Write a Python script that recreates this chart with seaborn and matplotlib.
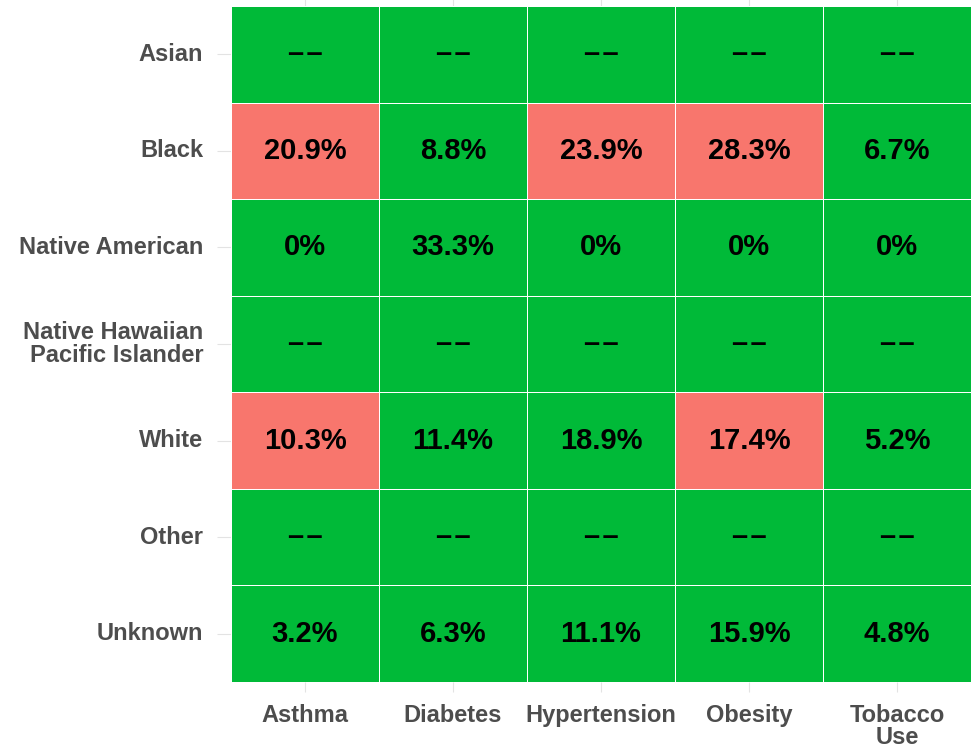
import numpy as np
import pandas as pd
import matplotlib
matplotlib.use("Agg")
import matplotlib.pyplot as plt
from matplotlib.colors import ListedColormap
import seaborn as sns

groups = ["Asian", "Black", "Native American", "Native Hawaiian\nPacific Islander",
          "White", "Other", "Unknown"]
conditions = ["Asthma", "Diabetes", "Hypertension", "Obesity", "Tobacco\nUse"]

# percent per group, None = no data
asian = [None, None, None, None, None]
black = [20.9, 8.8, 23.9, 28.3, 6.7]
native_american = [0, 33.3, 0, 0, 0]
nhpi = [None, None, None, None, None]
white = [10.3, 11.4, 18.9, 17.4, 5.2]
other = [None, None, None, None, None]
unknown = [3.2, 6.3, 11.1, 15.9, 4.8]

# 1 = flagged (red), 0 = ok (green)
flag_asian = [0, 0, 0, 0, 0]
flag_black = [1, 0, 1, 1, 0]
flag_native_american = [0, 0, 0, 0, 0]
flag_nhpi = [0, 0, 0, 0, 0]
flag_white = [1, 0, 0, 1, 0]
flag_other = [0, 0, 0, 0, 0]
flag_unknown = [0, 0, 0, 0, 0]

values = [asian, black, native_american, nhpi, white, other, unknown]
flags = [flag_asian, flag_black, flag_native_american, flag_nhpi,
         flag_white, flag_other, flag_unknown]

flag_df = pd.DataFrame(flags, index=groups, columns=conditions)
missing = "\u2013\u200a\u2013"
labels = [[missing if v is None else f"{v:g}%" for v in row] for row in values]
label_df = pd.DataFrame(labels, index=groups, columns=conditions)

sns.set_theme(style="white")
plt.rcParams["font.family"] = ["Liberation Sans", "DejaVu Sans"]

fig = plt.figure(figsize=(9.71, 7.49), dpi=100)
ax = fig.add_axes([231 / 971, 1 - 682 / 749, 1 - 231 / 971, 676 / 749])

sns.heatmap(flag_df, ax=ax, cmap=ListedColormap(["#00BA38", "#F8766D"]),
            vmin=0, vmax=1, cbar=False, annot=label_df, fmt="",
            linewidths=0.5, linecolor="white",
            annot_kws={"fontsize": 21, "fontweight": "bold", "color": "black"})

ax.set_xlabel("")
ax.set_ylabel("")
ax.tick_params(axis="y", left=True, length=10, width=0.8, color="#E3E3E3",
               pad=10, labelsize=17, labelcolor="#4D4D4D", rotation=0)
ax.tick_params(axis="x", bottom=True, top=True, length=7.5, width=0.8,
               color="#E3E3E3", pad=8, labelsize=17, labelcolor="#4D4D4D",
               rotation=0)
for t in ax.get_yticklabels():
    t.set_fontweight("bold")
    t.set_linespacing(0.95)
for t in ax.get_xticklabels():
    t.set_fontweight("bold")
    t.set_linespacing(0.95)
    t.set_verticalalignment("top")

for s in ax.spines.values():
    s.set_visible(False)

fig.savefig("out.png", dpi=100)
